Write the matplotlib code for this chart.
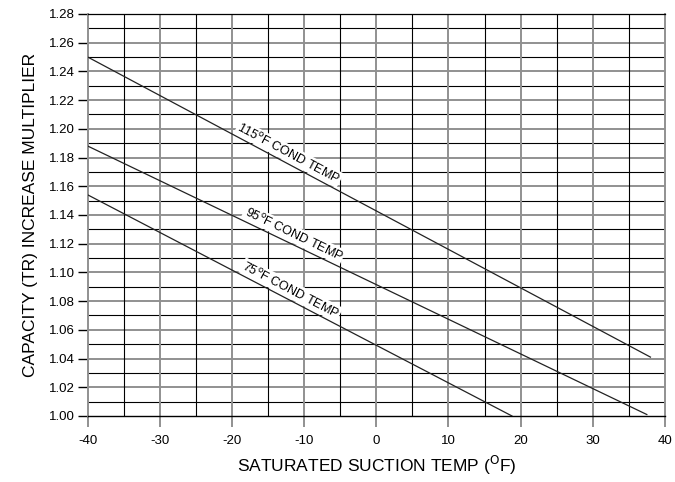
import numpy as np
import matplotlib
matplotlib.use("Agg")
import matplotlib.pyplot as plt

plt.rcParams['font.family'] = ['Liberation Sans', 'DejaVu Sans']

# Capacity multiplier vs. saturated suction temperature for three condensing temps
suction_115 = [-40, 38.0]
mult_115 = [1.250, 1.041]
suction_95 = [-40, 37.5]
mult_95 = [1.188, 1.001]
suction_75 = [-40, 18.8]
mult_75 = [1.154, 1.000]

curve_labels = ["115$^{\\rm o}$F COND TEMP", "95$^{\\rm o}$F COND TEMP", "75$^{\\rm o}$F COND TEMP"]
label_x = [-12.6, -11.9, -12.3]

x_ticks = [-40, -30, -20, -10, 0, 10, 20, 30, 40]
y_ticks = [1.00, 1.02, 1.04, 1.06, 1.08, 1.10, 1.12, 1.14, 1.16, 1.18, 1.20, 1.22, 1.24, 1.26, 1.28]

fig = plt.figure(figsize=(6.75, 4.82), dpi=100)
ax = fig.add_axes([0.130, 0.137, 0.855, 0.834])
ax.set_xlim(-40, 40)
ax.set_ylim(1.00, 1.28)

# horizontal grid: every 0.01, even hundredths grey/heavier, odd ones thin black
for i in range(1, 28):
    yv = 1.00 + i * 0.01
    if i % 2 == 0:
        ax.axhline(yv, color='#909090', lw=1.4, zorder=1)
    else:
        ax.axhline(yv, color='black', lw=0.8, zorder=1)

# vertical grid: every 5 degrees
for xv in range(-35, 40, 5):
    if xv % 10 == 0:
        ax.axvline(xv, color='#909090', lw=1.4, zorder=1)
    else:
        ax.axvline(xv, color='black', lw=0.8, zorder=1)

for xs, ys in [(suction_115, mult_115), (suction_95, mult_95), (suction_75, mult_75)]:
    ax.plot(xs, ys, color='#222222', lw=0.9, zorder=3)

# curve labels rotated along each line
for (xs, ys), txt, lx in zip([(suction_115, mult_115), (suction_95, mult_95), (suction_75, mult_75)],
                             curve_labels, label_x):
    slope = (ys[1] - ys[0]) / (xs[1] - xs[0])
    ly = ys[0] + slope * (lx - xs[0])
    p1 = ax.transData.transform((xs[0], ys[0]))
    p2 = ax.transData.transform((xs[1], ys[1]))
    ang = np.degrees(np.arctan2(p2[1] - p1[1], p2[0] - p1[0]))
    ax.text(lx, ly + 0.002, txt, rotation=ang, rotation_mode='anchor',
            ha='center', va='bottom', fontsize=9, zorder=4,
            bbox=dict(boxstyle='square,pad=0.1', fc='white', ec='none'))

for s in ['left', 'right']:
    ax.spines[s].set_color('#909090')
    ax.spines[s].set_linewidth(1.4)
ax.spines['top'].set_color('black')
ax.spines['top'].set_linewidth(0.9)
ax.spines['bottom'].set_color('black')
ax.spines['bottom'].set_linewidth(1.0)

ax.set_xticks(x_ticks)
ax.set_xticklabels([str(v) for v in x_ticks])
ax.set_yticks(y_ticks)
ax.set_yticklabels([f"{v:.2f}" for v in y_ticks])
ax.tick_params(axis='x', direction='out', length=8, width=1.4, color='#909090',
               labelsize=9.5, pad=6)
ax.tick_params(axis='y', direction='out', length=7, width=1.0, color='black',
               labelsize=9.5, pad=2)

ax.set_xlabel("SATURATED SUCTION TEMP ($^{\\rm O}$F)", fontsize=12.5, labelpad=5)
ax.set_ylabel("CAPACITY (TR) INCREASE MULTIPLIER", fontsize=12.5, labelpad=8)

fig.savefig("out.png", dpi=100)
